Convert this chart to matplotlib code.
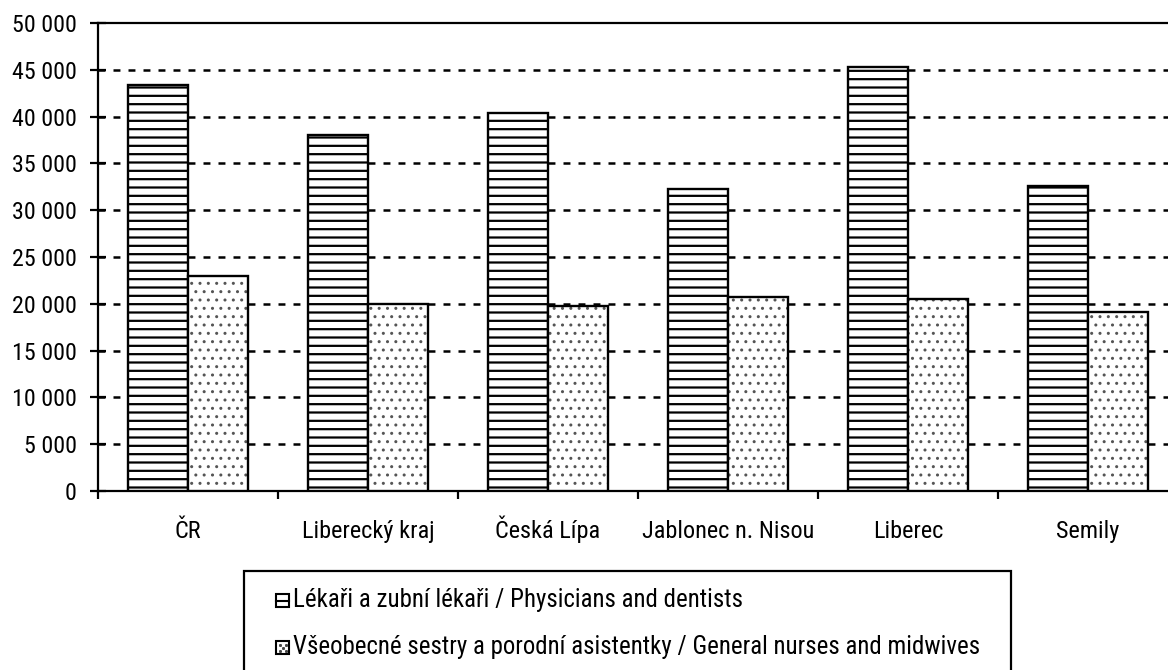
import matplotlib
matplotlib.use("Agg")
import matplotlib.pyplot as plt
from matplotlib import font_manager
from matplotlib.patches import Rectangle
from matplotlib.lines import Line2D
import numpy as np

categories = ["ČR", "Liberecký kraj", "Česká Lípa", "Jablonec n. Nisou", "Liberec", "Semily"]
physicians = [43400, 38000, 40400, 32300, 45300, 32600]
nurses = [23000, 20000, 19800, 20700, 20500, 19100]
series_labels = ["Lékaři a zubní lékaři / Physicians and dentists",
                 "Všeobecné sestry a porodní asistentky / General nurses and midwives"]
yticks = list(range(0, 50001, 5000))
ytick_labels = [f"{v:,}".replace(",", " ") for v in yticks]

names = {f.name for f in font_manager.fontManager.ttflist}
fam = "Liberation Sans"
for cand in ["Liberation Sans Narrow", "Arial Narrow", "Roboto Condensed", "PT Sans Narrow", "Archivo Narrow"]:
    if cand in names:
        fam = cand
        break
plt.rcParams['font.family'] = [fam, 'DejaVu Sans']
plt.rcParams['lines.scale_dashes'] = False

W, H = 1168, 670
fig = plt.figure(figsize=(W/100, H/100), dpi=100)
renderer = fig.canvas.get_renderer()

def fit_size(s, target_px, base=14.0):
    t = fig.text(0, 0, s, fontsize=base)
    w = t.get_window_extent(renderer).width
    t.remove()
    return base * target_px / w

fs_y = fit_size("50 000", 65)
fs_x = fit_size("Liberecký kraj", 133)
fs_l = fit_size(series_labels[1], 690)

ax = fig.add_axes([98/W, 1-491/H, 1080/W, 468/H])

x = np.arange(len(categories))
bw = 0.336
plt.rcParams['hatch.linewidth'] = 1.6
ax.bar(x - bw/2, physicians, bw, color='white', edgecolor='black', hatch='--', linewidth=1.7, zorder=3)
plt.rcParams['hatch.linewidth'] = 1.0
ax.bar(x + bw/2, nurses, bw, color='white', edgecolor='#555555', hatch='..', linewidth=0, zorder=3)
ax.bar(x + bw/2, nurses, bw, fill=False, edgecolor='black', linewidth=1.7, zorder=4)

ax.set_xlim(-0.5, len(categories) - 0.5)
ax.set_ylim(0, 50000)
ax.set_yticks(yticks)
ax.set_yticklabels(ytick_labels, fontsize=fs_y)
for v in yticks[1:-1]:
    ax.axhline(v, color='black', lw=1.8, dashes=(5, 5.8), zorder=1)
ax.axhline(50000, color='black', lw=1.6, zorder=1, clip_on=False)

ax.set_xticks(x)
ax.set_xticklabels(categories, fontsize=fs_x)
ax.tick_params(axis='x', which='major', length=0, pad=47/1.389)
for lab in ax.get_xticklabels():
    lab.set_verticalalignment('baseline')
ax.set_xticks(np.arange(-0.5, len(categories), 1.0), minor=True)
ax.tick_params(axis='x', which='minor', direction='out', length=6, width=1.6)
ax.tick_params(axis='y', direction='inout', length=11.5, width=1.6, pad=9.4)

for s in ['top', 'right']:
    ax.spines[s].set_visible(False)
for s in ['left', 'bottom']:
    ax.spines[s].set_linewidth(1.6)

# legend (manual layout in figure pixels)
def fx(px):
    return px / W
def fy(py):
    return 1 - py / H

fig.add_artist(Rectangle((fx(244), fy(700)), fx(1011) - fx(244), fy(571) - fy(700),
                         transform=fig.transFigure, fill=False, edgecolor='black', lw=1.6))
rows = [(594, 607), (641, 654)]
hx0, hx1 = 276, 289
# handle 1: box with middle line
top, bot = rows[0]
fig.add_artist(Rectangle((fx(hx0), fy(bot)), fx(hx1) - fx(hx0), fy(top) - fy(bot),
                         transform=fig.transFigure, fill=False, edgecolor='black', lw=1.5))
fig.add_artist(Line2D([fx(hx0), fx(hx1)], [fy((top + bot) / 2)] * 2,
                      transform=fig.transFigure, color='black', lw=1.5))
# handle 2: box with dots
top, bot = rows[1]
fig.add_artist(Rectangle((fx(hx0), fy(bot)), fx(hx1) - fx(hx0), fy(top) - fy(bot),
                         transform=fig.transFigure, fill=False, edgecolor='black', lw=1.5))
for dx, dy in [(3.5, 3.5), (9.5, 3.5), (6.5, 6.5), (3.5, 9.5), (9.5, 9.5)]:
    fig.add_artist(Line2D([fx(hx0 + dx)], [fy(top + dy)], transform=fig.transFigure,
                          marker='s', markersize=1.1, color='#444444', lw=0))
for (t, b), lab in zip(rows, series_labels):
    fig.text(fx(293), fy(b), lab, fontsize=fs_l, va='baseline', ha='left')

fig.savefig("out.png", dpi=100)
